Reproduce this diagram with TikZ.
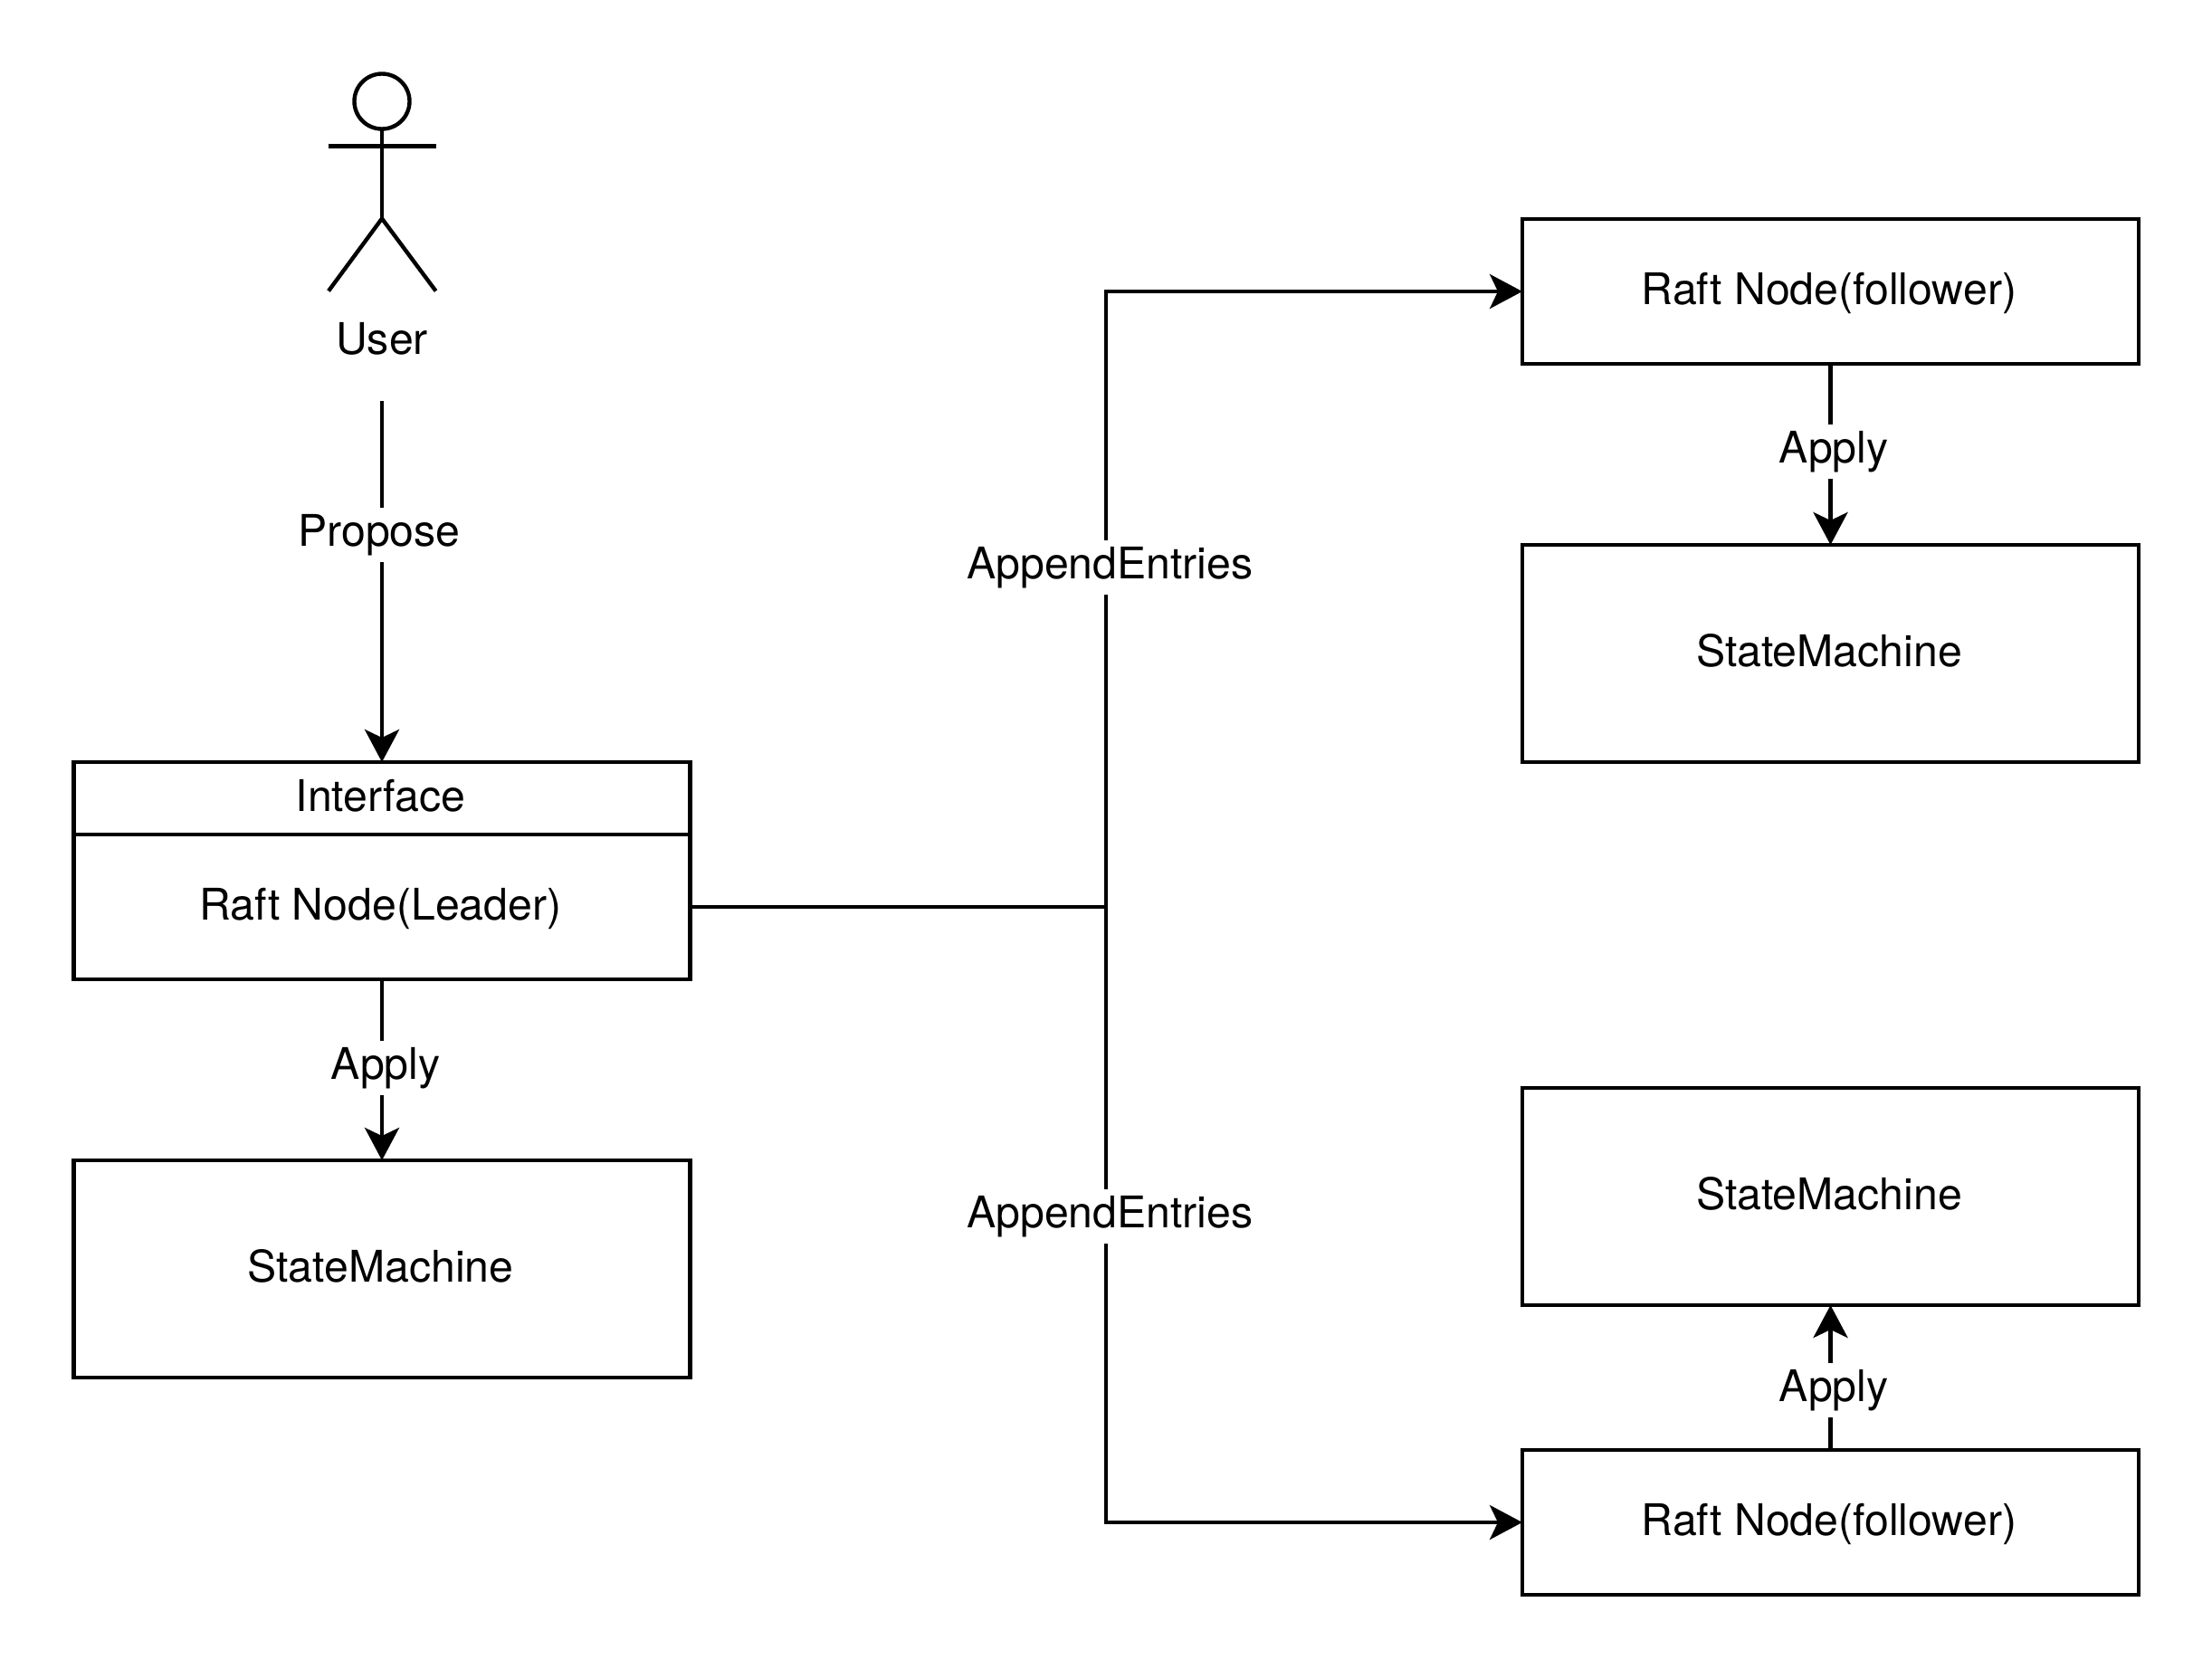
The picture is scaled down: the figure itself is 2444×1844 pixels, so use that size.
\documentclass[tikz,border=0pt]{standalone}
\usepackage{fontspec}
\setmainfont{TeX Gyre Heros}
\usetikzlibrary{arrows.meta}
\tikzset{
  x=1pt,y=-1pt,
  ln/.style={line width=4.4pt,black},
  box/.style={ln,draw,rectangle,inner sep=0pt,outer sep=0pt,minimum width=681pt,text height=38pt,text depth=10pt,font=\fontsize{48.2}{58}\selectfont,execute at end node={\kern3pt}},
  lab/.style={fill=white,inner xsep=4pt,inner ysep=6pt,text height=36pt,text depth=12pt,font=\fontsize{48.2}{58}\selectfont},
  plainlab/.style={inner sep=0pt,text height=36pt,text depth=12pt,font=\fontsize{48.2}{58}\selectfont},
  conn/.style={ln,-{Stealth[length=36pt,width=38pt,inset=9pt]}},
  conl/.style={ln}
}
\begin{document}
\begin{tikzpicture}
\useasboundingbox[fill=white] (0,0) rectangle (2444,1844);
% actor
\node[ln,draw,circle,minimum size=61pt,inner sep=0pt,outer sep=0pt] (head) at (422,112) {};
\coordinate (armL) at (363,161.5);
\coordinate (armR) at (481.5,161.5);
\coordinate (hip) at (422,241.5);
\coordinate (footL) at (363,321.5);
\coordinate (footR) at (481.5,321.5);
\draw[conl] (head.south) -- (hip);
\draw[conl] (armL) -- (armR);
\draw[conl] (footL) -- (hip) -- (footR);
\node[plainlab] (user) at (422,379) {User};
\coordinate (pstart) at (422,443);
% left column
\node[box,minimum height=80pt] (iface) at (422,882) {Interface};
\node[box,minimum height=160pt] (leader) at (422,1002) {Raft Node(Leader)};
\node[box,minimum height=240pt] (smL) at (422,1402) {StateMachine};
% right column
\node[box,minimum height=160pt] (f1) at (2022.5,322) {Raft Node(follower)};
\node[box,minimum height=240pt] (sm1) at (2022.5,722) {StateMachine};
\node[box,minimum height=240pt] (sm2) at (2022.5,1322) {StateMachine};
\node[box,minimum height=160pt] (f2) at (2022.5,1682) {Raft Node(follower)};
\coordinate (trunk) at (1222,1002);
% connectors
\draw[conn] (pstart) -- (iface.north);
\draw[conn] (leader.south) -- (smL.north);
\draw[conl] (leader.east) -- (trunk);
\draw[conn] (trunk) |- (f1.west);
\draw[conn] (trunk) |- (f2.west);
\draw[conn] (f1.south) -- (sm1.north);
\draw[conn] (f2.north) -- (sm2.south);
% labels
\node[lab] (lprop) at (419,591) {Propose};
\node[lab] (lapL) at (426,1180) {Apply};
\node[lab] (lae1) at (1226.5,627) {AppendEntries};
\node[lab] (lae2) at (1226.5,1344) {AppendEntries};
\node[lab] (lap1) at (2026,499) {Apply};
\node[lab] (lap2) at (2026,1536) {Apply};
\end{tikzpicture}
\end{document}
